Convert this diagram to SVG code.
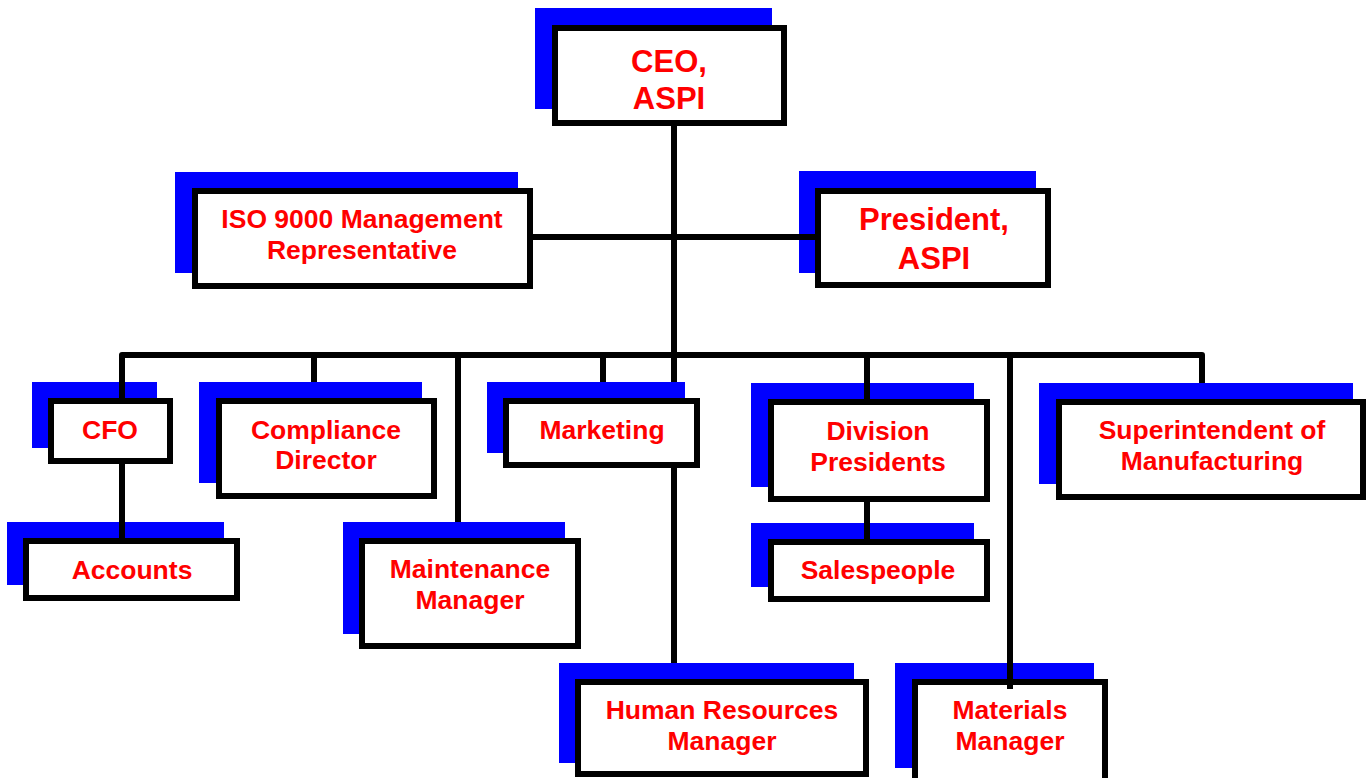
<svg xmlns="http://www.w3.org/2000/svg" width="1366" height="778" viewBox="0 0 1366 778">
<style>
.sh{fill:#0000FF}
.bx{fill:#FFFFFF;stroke:#000000;stroke-width:6}
.t{font-family:"Liberation Sans",Arial,sans-serif;font-weight:bold;fill:#FF0000;text-anchor:middle;font-size:26.5px}
.tb{font-size:31px}
.c{fill:none;stroke:#000000;stroke-width:6;stroke-linejoin:round}
</style>
<rect width="1366" height="778" fill="#FFFFFF"/>
<g id="ceo">
<rect class="sh" x="535" y="8" width="237" height="101"/>
<rect class="bx" x="555" y="28" width="229" height="95"/>
<text class="t tb" x="669" y="72">CEO,</text>
<text class="t tb" x="669" y="109">ASPI</text>
</g>
<g id="iso">
<rect class="sh" x="175" y="172" width="343" height="101"/>
<rect class="bx" x="195" y="191" width="335" height="95"/>
<text class="t" x="362" y="228">ISO 9000 Management</text>
<text class="t" x="362" y="259">Representative</text>
</g>
<g id="president">
<rect class="sh" x="799" y="171" width="237" height="102"/>
<rect class="bx" x="818" y="191" width="230" height="94"/>
<text class="t tb" x="934" y="230">President,</text>
<text class="t tb" x="934" y="269">ASPI</text>
</g>
<g id="cfo">
<rect class="sh" x="32" y="382" width="125" height="66"/>
<rect class="bx" x="51" y="401" width="119" height="60"/>
<text class="t" x="110" y="439">CFO</text>
</g>
<g id="accounts">
<rect class="sh" x="7" y="522" width="217" height="63"/>
<rect class="bx" x="26" y="541" width="211" height="57"/>
<text class="t" x="132" y="579">Accounts</text>
</g>
<g id="compliance">
<rect class="sh" x="199" y="382" width="223" height="101"/>
<rect class="bx" x="219" y="401" width="215" height="95"/>
<text class="t" x="326" y="439">Compliance</text>
<text class="t" x="326" y="469">Director</text>
</g>
<g id="maintenance">
<rect class="sh" x="343" y="522" width="222" height="112"/>
<rect class="bx" x="362" y="541" width="216" height="105"/>
<text class="t" x="470" y="578">Maintenance</text>
<text class="t" x="470" y="609">Manager</text>
</g>
<g id="marketing">
<rect class="sh" x="487" y="382" width="198" height="71"/>
<rect class="bx" x="506" y="401" width="191" height="64"/>
<text class="t" x="602" y="439">Marketing</text>
</g>
<g id="division">
<rect class="sh" x="751" y="383" width="223" height="104"/>
<rect class="bx" x="771" y="402" width="216" height="97"/>
<text class="t" x="878" y="440">Division</text>
<text class="t" x="878" y="471">Presidents</text>
</g>
<g id="salespeople">
<rect class="sh" x="751" y="523" width="223" height="64"/>
<rect class="bx" x="771" y="542" width="216" height="57"/>
<text class="t" x="878" y="579">Salespeople</text>
</g>
<g id="superintendent">
<rect class="sh" x="1039" y="383" width="314" height="101"/>
<rect class="bx" x="1059" y="402" width="304" height="95"/>
<text class="t" x="1212" y="439">Superintendent of</text>
<text class="t" x="1212" y="470">Manufacturing</text>
</g>
<g id="hr">
<rect class="sh" x="559" y="663" width="295" height="100"/>
<rect class="bx" x="578" y="682" width="288" height="92"/>
<text class="t" x="722" y="719">Human Resources</text>
<text class="t" x="722" y="750">Manager</text>
</g>
<g id="materials">
<rect class="sh" x="895" y="663" width="199" height="105"/>
<rect class="bx" x="915" y="682" width="190" height="110"/>
<text class="t" x="1010" y="719">Materials</text>
<text class="t" x="1010" y="750">Manager</text>
</g>
<g id="connectors">
<path class="c" d="M674 123 V382"/>
<path class="c" d="M674 468 V663"/>
<path class="c" d="M533 237 H815"/>
<path class="c" d="M122 401 V355 H1202 V383"/>
<path class="c" d="M314 355 V382"/>
<path class="c" d="M458 355 V522"/>
<path class="c" d="M603 355 V382"/>
<path class="c" d="M867 355 V402"/>
<path class="c" d="M1010 355 V689"/>
<path class="c" d="M122 464 V541"/>
<path class="c" d="M867 499 V542"/>
</g>
</svg>
